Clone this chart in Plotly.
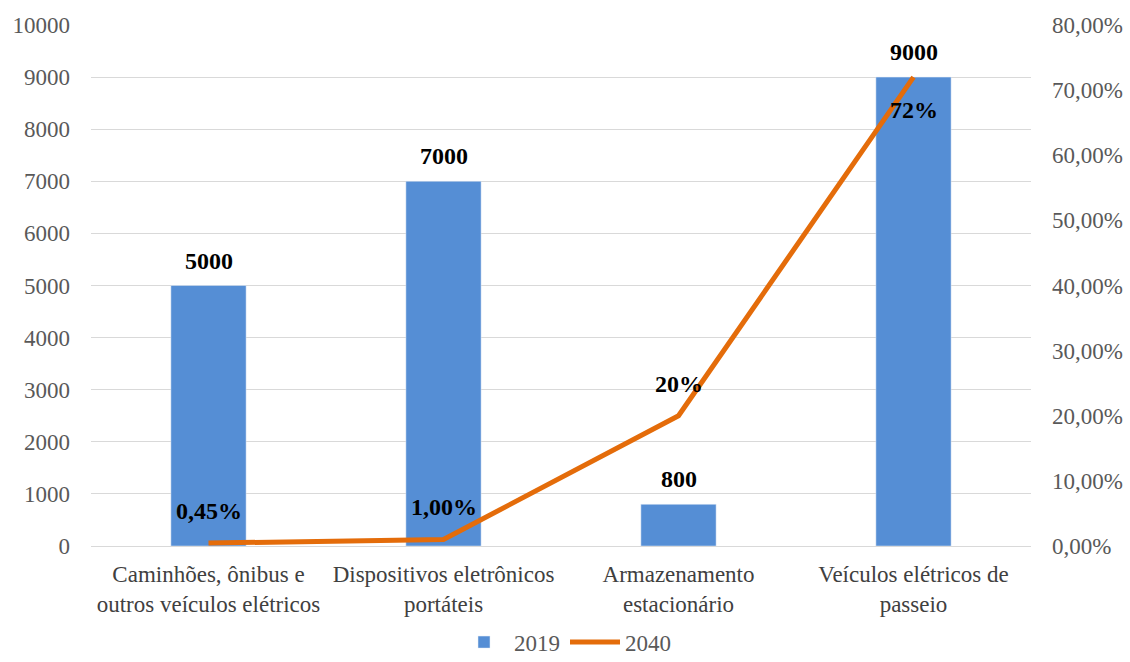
import plotly.graph_objects as go

categories = ["Caminhões, ônibus e<br>outros veículos elétricos",
              "Dispositivos eletrônicos<br>portáteis",
              "Armazenamento<br>estacionário",
              "Veículos elétricos de<br>passeio"]
values_2019 = [5000, 7000, 800, 9000]
values_2040 = [0.0045, 0.01, 0.20, 0.72]
labels_2040 = ["0,45%", "1,00%", "20%", "72%"]
left_ticks = [0, 1000, 2000, 3000, 4000, 5000, 6000, 7000, 8000, 9000, 10000]
right_ticks = [0, 0.1, 0.2, 0.3, 0.4, 0.5, 0.6, 0.7, 0.8]
right_ticktext = ["0,00%", "10,00%", "20,00%", "30,00%", "40,00%", "50,00%", "60,00%", "70,00%", "80,00%"]

FONT = "Times New Roman, Liberation Serif, serif"
BAR = "#558ED5"
LINE = "#E46C0A"

fig = go.Figure()
fig.add_trace(go.Bar(x=categories, y=values_2019, name="2019", marker_color=BAR,
                     width=0.32, yaxis="y"))
fig.add_trace(go.Scatter(x=categories, y=values_2040, name="2040", mode="lines",
                         line=dict(color=LINE, width=5), yaxis="y2"))

annotations = []
for c, v in zip(categories, values_2019):
    annotations.append(dict(x=c, y=v, xref="x", yref="y", text=f"<b>{v}</b>",
                            showarrow=False, yshift=25,
                            font=dict(family=FONT, size=24, color="black")))
for i, (c, v, t) in enumerate(zip(categories, values_2040, labels_2040)):
    shift = -33 if i == len(categories) - 1 else 32
    annotations.append(dict(x=c, y=v, xref="x", yref="y2", text=f"<b>{t}</b>",
                            showarrow=False, yshift=shift,
                            font=dict(family=FONT, size=24, color="black")))

fig.update_layout(
    width=1130, height=662,
    margin=dict(l=91, r=99, t=25, b=116, autoexpand=False),
    paper_bgcolor="white", plot_bgcolor="white",
    font=dict(family=FONT, size=23, color="#595959"),
    xaxis=dict(showgrid=False, tickfont=dict(size=23, color="#404040"),
               showline=False, ticks="", automargin=False, ticklabelstandoff=12),
    yaxis=dict(range=[0, 10000], tickvals=left_ticks, ticktext=[str(t) for t in left_ticks],
               showgrid=True, gridcolor="#D9D9D9", gridwidth=1, zeroline=True,
               zerolinecolor="#D9D9D9", zerolinewidth=1, ticks="", ticklen=0,
               ticklabelstandoff=20,
               tickfont=dict(size=23, color="#595959"), automargin=False),
    yaxis2=dict(range=[0, 0.8], tickvals=right_ticks, ticktext=right_ticktext,
                overlaying="y", side="right", showgrid=False, zeroline=False,
                ticklabelstandoff=20,
                tickfont=dict(size=23, color="#595959"), automargin=False),
    legend=dict(orientation="h", x=0.5, xanchor="center", xref="container",
                y=0.03, yanchor="middle", yref="container", itemwidth=50,
                font=dict(size=23, color="#595959")),
    annotations=annotations,
    showlegend=True,
)

fig.write_html("out.html")
